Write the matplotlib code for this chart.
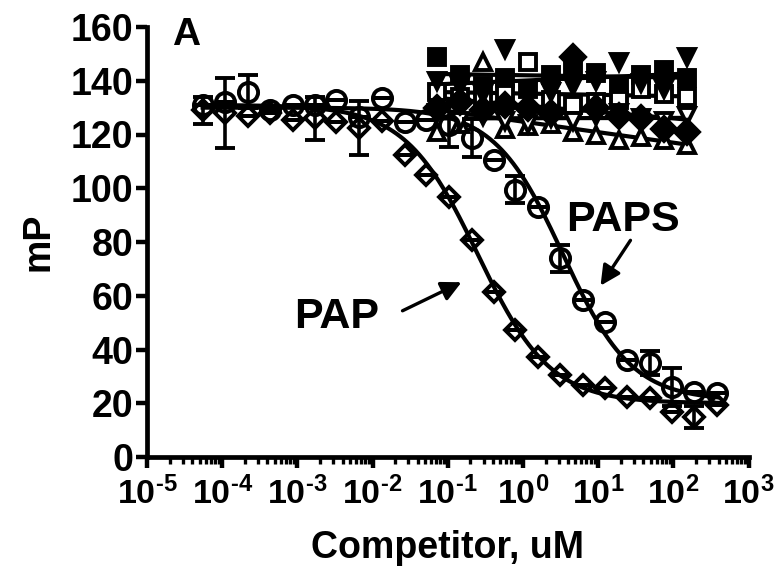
"""Competition binding: mP vs competitor concentration (panel A)."""

import matplotlib
matplotlib.use("Agg")
import matplotlib.pyplot as plt
import numpy as np
from matplotlib.ticker import LogLocator, FixedLocator, NullFormatter

plt.rcParams["font.family"] = ["Liberation Sans", "DejaVu Sans"]
plt.rcParams["font.weight"] = "bold"
plt.rcParams["mathtext.fontset"] = "custom"
plt.rcParams["mathtext.rm"] = "Liberation Sans:bold"
plt.rcParams["mathtext.bf"] = "Liberation Sans:bold"
plt.rcParams["mathtext.default"] = "bf"

# PAP / PAPS dilution series (uM)
conc = [5.5e-5, 1.09e-4, 2.19e-4, 4.3e-4, 8.7e-4, 1.7e-3, 3.3e-3, 6.7e-3,
        1.32e-2, 2.67e-2, 5.2e-2, 0.103, 0.207, 0.406, 0.795, 1.61, 3.15,
        6.36, 12.5, 24.4, 49.3, 96.7, 190, 383]
pap_mp = [129, 128, 127, 128, 125.4, 126, 124.6, 122.5, 125, 112.4, 105, 96.7,
          80.7, 61.4, 47.3, 37.2, 30.5, 26.8, 25.7, 22.3, 22.0, 16.7, 14.9, 19.3]
pap_err = [5, 13, 0, 0, 0, 8, 0, 10, 0, 0, 0, 0,
           0, 0, 0, 0, 0, 0, 0, 0, 0, 0, 4, 0]
paps_mp = [131, 132, 136, 129, 131, 131, 133, 126.5, 133.5, 124.6, 125.4, 123.5,
           118.7, 110.5, 99.4, 93, 74, 58.4, 50.2, 36, 35, 26, 24.2, 23.8]
paps_err = [0, 0, 6, 0, 0, 0, 0, 0, 0, 0, 0, 8,
            7, 0, 5, 0, 5, 0, 0, 0, 4.5, 7, 0, 0]

# four-parameter logistic fits: bottom, top, IC50 (uM), Hill slope
pap_fit = (20, 131, 0.25, 0.9)
paps_fit = (21, 130, 3.4, 0.95)

# non-competing compounds
comp_conc = [0.073, 0.146, 0.293, 0.586, 1.17, 2.34, 4.69, 9.38, 18.75, 37.5, 75, 150]
tri_down_filled = [140, 138, 135, 152, 137, 136, 138, 140, 147, 139, 137, 149]
square_filled = [149, 142, 138, 141, 137, 142, 145, 143, 138, 142, 144, 141]
square_open = [136, 134, 133, 135, 147, 133, 131, 132, 133, 137, 135, 134]
tri_up_open = [121, 124, 147, 122, 123, 124, 121, 120, 118, 119, 118, 116]
tri_down_open = [128, 125, 127, 125, 124, 126, 125, 127, 128, 126, 125, 127]
diamond_filled = [130, 132, 129, 131, 130, 128, 149, 130, 127, 126, 122, 121]

x_ticks = [1e-5, 1e-4, 1e-3, 1e-2, 1e-1, 1e0, 1e1, 1e2, 1e3]
x_ticklabels = [r"$10^{\text{-}5}$", r"$10^{\text{-}4}$", r"$10^{\text{-}3}$",
                r"$10^{\text{-}2}$", r"$10^{\text{-}1}$", r"$10^{0}$",
                r"$10^{1}$", r"$10^{2}$", r"$10^{3}$"]
y_ticks = [0, 20, 40, 60, 80, 100, 120, 140, 160]


def logistic(x, bottom, top, ic50, hill):
    return bottom + (top - bottom) / (1 + (x / ic50) ** hill)


W, H = 775, 576
fig = plt.figure(figsize=(W / 100, H / 100), dpi=100)
ax = fig.add_axes([147 / W, (H - 457) / H, (748.5 - 147) / W, (457 - 27) / H])

ms = 12
mew = 2.8
kw = dict(color="black", clip_on=False, zorder=4)

# inactive compounds with flat-ish fit lines
others = [
    (square_filled, "s", "black"),
    (square_open, "s", "white"),
    (tri_down_filled, "v", "black"),
    (tri_up_open, "^", "white"),
    (tri_down_open, "v", "white"),
    (diamond_filled, "D", "black"),
]
lx = np.log10(comp_conc)
for vals, mk, face in others:
    ax.plot(comp_conc, vals, linestyle="none", marker=mk, markersize=ms,
            markerfacecolor=face, markeredgecolor="black", markeredgewidth=mew, **kw)
    slope, icpt = np.polyfit(lx, vals, 1)
    ax.plot([comp_conc[0], comp_conc[-1]],
            [icpt + slope * lx[0], icpt + slope * lx[-1]],
            color="black", lw=3, zorder=3)

# fitted curves
xs = np.logspace(np.log10(conc[0]), np.log10(conc[-1]), 400)
ax.plot(xs, logistic(xs, *pap_fit), color="black", lw=3, zorder=3)
ax.plot(xs, logistic(xs, *paps_fit), color="black", lw=3, zorder=3)

ax.errorbar(conc, pap_mp, yerr=pap_err, fmt="D", markersize=ms * 0.85,
            markerfacecolor="none", markeredgecolor="black", markeredgewidth=mew,
            ecolor="black", elinewidth=2.6, capsize=7.5, capthick=2.8, **kw)
ax.errorbar(conc, paps_mp, yerr=paps_err, fmt="o", markersize=ms * 1.15,
            markerfacecolor="none", markeredgecolor="black", markeredgewidth=mew,
            ecolor="black", elinewidth=2.6, capsize=7.5, capthick=2.8, **kw)

ax.set_xscale("log")
ax.set_xlim(1e-5, 1e3)
ax.set_ylim(0, 160)

ax.xaxis.set_major_locator(FixedLocator(x_ticks))
ax.set_xticklabels(x_ticklabels)
ax.xaxis.set_minor_locator(LogLocator(base=10, subs=np.arange(2, 10), numticks=20))
ax.xaxis.set_minor_formatter(NullFormatter())
ax.set_yticks(y_ticks)

for side in ("top", "right"):
    ax.spines[side].set_visible(False)
for side in ("left", "bottom"):
    ax.spines[side].set_linewidth(3.4)

ax.tick_params(axis="both", which="major", width=3.2, length=8, labelsize=27, pad=2)
ax.tick_params(axis="x", which="major", pad=6, labelsize=24.5)
ax.tick_params(axis="x", which="minor", width=2.4, length=5)

ax.set_xlabel("Competitor, uM", fontsize=27, fontweight="bold", labelpad=14)
ax.set_ylabel("mP", fontsize=27, fontweight="bold", labelpad=10)

fig.text(186 / W, 1 - 35 / H, "A", fontsize=28, fontweight="bold",
         ha="center", va="center")
fig.text(337 / W, 1 - 317 / H, "PAP", fontsize=31, fontweight="bold",
         ha="center", va="center")
fig.text(623 / W, 1 - 220 / H, "PAPS", fontsize=31, fontweight="bold",
         ha="center", va="center")

arrow = dict(arrowstyle="-|>", lw=2.4, color="black", mutation_scale=30)
ax.annotate("", xy=(464 / W, 1 - 281 / H), xytext=(400 / W, 1 - 312 / H),
            xycoords="figure fraction", textcoords="figure fraction", arrowprops=arrow)
ax.annotate("", xy=(599 / W, 1 - 288 / H), xytext=(632 / W, 1 - 238 / H),
            xycoords="figure fraction", textcoords="figure fraction", arrowprops=arrow)

fig.savefig("out.png", dpi=100)
